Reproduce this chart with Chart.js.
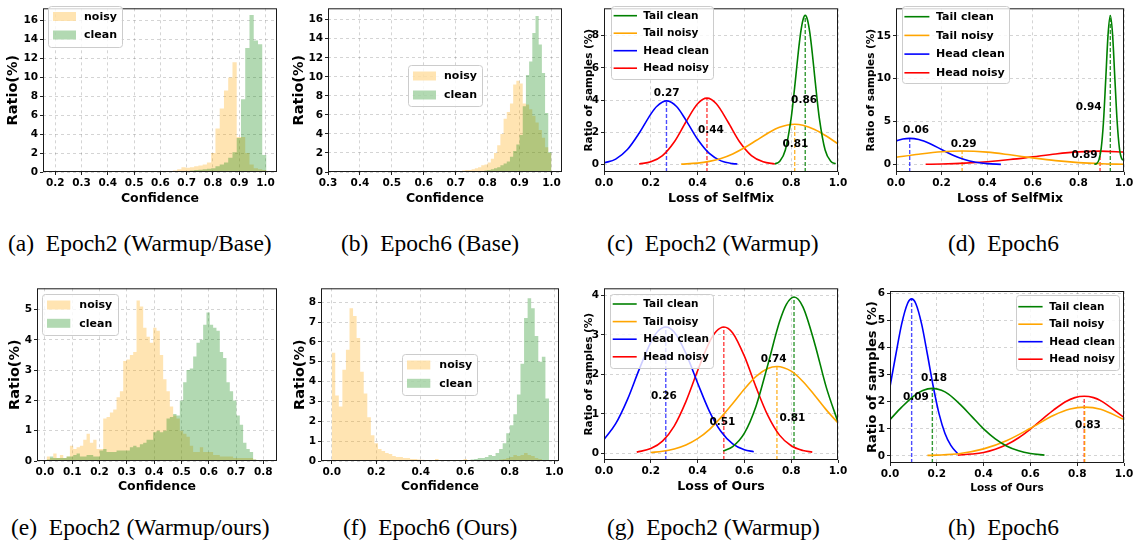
<!DOCTYPE html>
<html>
<head>
<meta charset="utf-8">
<script src="https://cdn.jsdelivr.net/npm/chart.js@4.4.1/dist/chart.umd.min.js"></script>
<style>
  html, body { margin: 0; padding: 0; background: #fff; }
  #fig { position: relative; width: 1138px; height: 549px; overflow: hidden; }
  canvas { position: absolute; }
  .cap { position: absolute; font-family: "Liberation Serif", "Times New Roman", serif;
         font-size: 23.5px; line-height: 24px; color: #000; white-space: nowrap; }
</style>
</head>
<body>
<div id="fig">
  <canvas id="ca" width="285" height="215" style="left:0px;top:0px"></canvas>
  <canvas id="cb" width="285" height="215" style="left:285px;top:0px"></canvas>
  <canvas id="cc" width="283" height="215" style="left:570px;top:0px"></canvas>
  <canvas id="cd" width="285" height="215" style="left:853px;top:0px"></canvas>
  <canvas id="ce" width="285" height="215" style="left:0px;top:280px"></canvas>
  <canvas id="cf" width="285" height="215" style="left:285px;top:280px"></canvas>
  <canvas id="cg" width="283" height="215" style="left:570px;top:280px"></canvas>
  <canvas id="ch" width="285" height="215" style="left:853px;top:280px"></canvas>

  <div class="cap" style="left:8px;top:231px">(a)&ensp;Epoch2 (Warmup/Base)</div>
  <div class="cap" style="left:341px;top:231px">(b)&ensp;Epoch6 (Base)</div>
  <div class="cap" style="left:607px;top:231px">(c)&ensp;Epoch2 (Warmup)</div>
  <div class="cap" style="left:948px;top:231px">(d)&ensp;Epoch6</div>
  <div class="cap" style="left:11px;top:515px">(e)&ensp;Epoch2 (Warmup/ours)</div>
  <div class="cap" style="left:343px;top:515px">(f)&ensp;Epoch6 (Ours)</div>
  <div class="cap" style="left:607px;top:515px">(g)&ensp;Epoch2 (Warmup)</div>
  <div class="cap" style="left:948px;top:515px">(h)&ensp;Epoch6</div>
</div>

<script>
// ---------- data: confidence histograms (ratio %) ----------
// (a) Epoch2 Warmup/Base
const aBinStart = 0.194, aBinWidth = 0.0162;
const aNoisy = [0,0,0,0,0,0,0,0,0,0, 0,0,0,0,0,0,0,0,0.03,0.03,
                0.01,0.02,0.03,0.04,0.05,0.06,0.08,0.1,0.15,0.3,
                0.5,0.45,0.5,0.6,0.7,0.8,1.0,2.0,4.6,6.7,
                8.6,10.0,11.6,3.7,3.7,2.0,0.8,0.4,0.3,0.2];
const aClean = [0,0,0,0,0,0,0,0,0,0, 0,0,0,0,0,0,0,0,0,0,
                0,0,0,0,0,0,0.03,0.05,0.05,0.08,
                0.1,0.1,0.15,0.2,0.25,0.3,0.35,0.4,0.6,0.8,
                1.0,1.5,2.1,3.6,7.7,13.1,16.6,13.9,13.5,1.8];
const aXTicks = [0.2,0.3,0.4,0.5,0.6,0.7,0.8,0.9,1.0];
const aYTicks = [0,2,4,6,8,10,12,14,16];

// (b) Epoch6 Base
const bBinStart = 0.70, bBinWidth = 0.01;
const bNoisy = [0.05,0.1,0.15,0.2,0.2,0.3,0.4,0.5,0.7,0.8,
                1.0,1.4,2.0,2.8,4.0,5.6,6.3,7.2,9.2,9.6,
                9.3,7.2,7.1,6.6,5.9,5.2,4.4,3.6,2.6,2.0];
const bClean = [0.03,0.03,0.03,0.03,0.03,0.03,0.03,0.05,0.1,0.15,
                0.2,0.3,0.4,0.5,0.7,0.9,1.1,1.6,2.2,2.9,
                3.9,6.9,10.2,11.6,14.6,16.4,13.4,10.4,6.2,2.1];
const bXTicks = [0.3,0.4,0.5,0.6,0.7,0.8,0.9,1.0];
const bYTicks = [0,2,4,6,8,10,12,14,16];

// (e) Epoch2 Warmup/ours
const eBinStart = 0.0061, eBinWidth = 0.0122;
const eNoisy = [0.15,0.1,0.25,0.1,0.2,0.1,0.15,0.5,0.4,0.45,
                0.5,0.7,0.9,0.6,0.7,0.4,0.4,1.4,1.45,1.6,
                1.7,2.1,2.3,3.3,3.35,3.5,3.6,5.3,5.1,4.4,
                4.1,3.9,4.4,4.3,3.5,2.7,2.3,1.8,1.5,1.4,
                1.0,0.9,0.8,0.5,0.3,0.3,0.45,0.3,0.3,0.3,
                0.2,0.2,0.15,0.15,0.15,0.15,0.1,0.1,0.1,0.1,
                0.1,0.1,0.05];
const eClean = [0.05,0.15,0.1,0.1,0.1,0.1,0.15,0.15,0.2,0.25,
                0.15,0.15,0.2,0.2,0.15,0.15,0.35,0.4,0.3,0.3,
                0.3,0.35,0.35,0.35,0.35,0.45,0.5,0.45,0.55,0.6,
                0.7,0.7,0.95,1.0,0.95,1.0,1.4,1.45,1.55,1.5,
                2.0,2.6,3.0,3.05,3.45,3.9,4.0,4.5,4.9,4.5,
                4.4,4.3,3.6,3.4,2.6,2.3,2.0,1.5,1.2,0.6,
                0.4,0.3,0.05];
const eXTicks = [0.0,0.1,0.2,0.3,0.4,0.5,0.6,0.7,0.8];
const eYTicks = [0,1,2,3,4,5];

// (f) Epoch6 Ours
const fBinStart = 0.0, fBinWidth = 0.016;
const fNoisy = [5.45,3.3,2.75,4.6,5.6,7.7,7.3,6.2,4.5,3.4,
                2.2,1.3,0.9,0.6,0.5,0.4,0.35,0.25,0.2,0.2,
                0.15,0.15,0.1,0.1,0.08,0.06,0.05,0.05,0.04,0.1,
                0.03,0.03,0.03,0.03,0.03,0.03,0.03,0.1,0.05,0.03,
                0.03,0.03,0.03,0.03,0.03,0.03,0.05,0.08,0.1,0.15,
                0.2,0.3,0.25,0.3,0.4,0.3,0.25,0.15,0.1,0.05,
                0.02];
const fClean = [0,0,0,0,0,0,0,0,0,0, 0,0,0,0,0,0,0,0,0,0,
                0,0,0,0,0,0,0,0,0,0,
                0,0.03,0.03,0.03,0.03,0.03,0.03,0.03,0.03,0.08,
                0.1,0.15,0.15,0.2,0.3,0.25,0.4,0.6,0.9,1.4,
                1.8,2.35,3.35,4.9,7.2,8.2,7.7,6.3,5.0,5.25,
                3.15];
const fXTicks = [0.0,0.2,0.4,0.6,0.8,1.0];
const fYTicks = [0,1,2,3,4,5,6,7,8];

// ---------- data: loss distributions, [loss, ratio %] ----------
const curveNames = ['Tail clean', 'Tail noisy', 'Head clean', 'Head noisy'];
const curveXTicks = [0.0,0.2,0.4,0.6,0.8,1.0];

// (c) SelfMix Epoch2
const cTailClean = [[0.73,0.04],[0.75,0.19],[0.775,0.9],[0.8,2.9],[0.81,4.13],[0.82,5.52],[0.83,6.92],
                    [0.84,8.13],[0.85,8.95],[0.86,9.25],[0.87,8.95],[0.88,8.13],[0.89,6.92],[0.9,5.52],
                    [0.91,4.13],[0.92,2.9],[0.945,0.9],[0.97,0.19],[0.99,0.05]];
const cTailNoisy = [[0.33,0.03],[0.4,0.09],[0.45,0.2],[0.5,0.38],[0.55,0.66],[0.6,1.04],[0.65,1.49],
                    [0.7,1.94],[0.75,2.31],[0.815,2.5],[0.85,2.44],[0.9,2.18],[0.95,1.77],[1.0,1.28]];
const cHeadClean = [[0,0.1],[0.05,0.34],[0.1,0.93],[0.15,1.94],[0.2,3.13],[0.225,3.6],[0.267,3.95],
                    [0.31,3.6],[0.35,2.76],[0.4,1.57],[0.45,0.69],[0.5,0.23],[0.55,0.06],[0.57,0.04]];
const cHeadNoisy = [[0.15,0.04],[0.2,0.17],[0.25,0.56],[0.3,1.4],[0.35,2.64],[0.4,3.77],[0.44,4.12],
                    [0.48,3.77],[0.53,2.64],[0.58,1.4],[0.63,0.56],[0.68,0.17],[0.73,0.04]];
const cMeans = [0.86, 0.815, 0.267, 0.44];
const cPeaks = [9.25, 2.5, 3.95, 4.12];
const cMeanText = ['0.86', '0.81', '0.27', '0.44'];
const cYTicks = [0,2,4,6,8];

// (d) SelfMix Epoch6
const dTailClean = [[0.87,0.05],[0.88,0.12],[0.89,0.55],[0.9,1.89],[0.91,4.99],[0.92,9.98],[0.93,15.1],
                    [0.94,17.36],[0.95,15.1],[0.96,9.98],[0.97,4.99],[0.98,1.89],[0.99,0.7],[1.0,0.5]];
const dTailNoisy = [[0,0.85],[0.1,1.21],[0.2,1.49],[0.29,1.58],[0.4,1.45],[0.5,1.14],[0.6,0.78],
                    [0.7,0.46],[0.8,0.23],[0.9,0.1],[1.0,0.04]];
const dHeadClean = [[0,2.76],[0.03,2.98],[0.06,3.06],[0.1,2.92],[0.15,2.43],[0.2,1.75],[0.25,1.09],
                    [0.3,0.59],[0.35,0.28],[0.4,0.11],[0.46,0.03]];
const dHeadNoisy = [[0.13,0.04],[0.2,0.075],[0.3,0.17],[0.4,0.34],[0.5,0.59],[0.6,0.91],[0.7,1.24],
                    [0.8,1.48],[0.895,1.57],[1.0,1.46]];
const dMeans = [0.94, 0.29, 0.06, 0.895];
const dPeaks = [17.36, 1.58, 3.06, 1.57];
const dMeanText = ['0.94', '0.29', '0.06', '0.89'];
const dYTicks = [0,5,10,15];

// (g) Ours Epoch2
const gTailClean = [[0.51,0.06],[0.55,0.17],[0.6,0.51],[0.65,1.2],[0.7,2.24],[0.75,3.33],[0.78,3.78],
                    [0.812,3.96],[0.85,3.71],[0.9,2.79],[0.95,1.67],[1.0,0.79]];
const gTailNoisy = [[0.2,0.02],[0.25,0.05],[0.3,0.11],[0.35,0.21],[0.4,0.37],[0.45,0.6],[0.5,0.91],
                    [0.55,1.26],[0.6,1.63],[0.65,1.95],[0.7,2.15],[0.739,2.2],[0.8,2.08],[0.85,1.82],
                    [0.9,1.47],[0.95,1.1],[1.0,0.77]];
const gHeadClean = [[0,0.35],[0.05,0.75],[0.1,1.36],[0.15,2.12],[0.2,2.81],[0.23,3.09],[0.264,3.2],
                    [0.3,3.07],[0.35,2.53],[0.4,1.78],[0.45,1.07],[0.5,0.55],[0.55,0.24],[0.6,0.09],[0.64,0.04]];
const gHeadNoisy = [[0.14,0.03],[0.2,0.12],[0.25,0.31],[0.3,0.69],[0.35,1.31],[0.4,2.09],[0.45,2.81],
                    [0.48,3.09],[0.512,3.2],[0.55,3.05],[0.6,2.46],[0.65,1.67],[0.7,0.96],[0.75,0.46],
                    [0.8,0.19],[0.85,0.07],[0.89,0.03]];
const gMeans = [0.812, 0.739, 0.264, 0.512];
const gPeaks = [3.96, 2.2, 3.2, 3.2];
const gMeanText = ['0.81', '0.74', '0.26', '0.51'];
const gYTicks = [0,1,2,3,4];

// (h) Ours Epoch6
const hTailClean = [[0,1.34],[0.05,1.8],[0.1,2.2],[0.14,2.41],[0.181,2.49],[0.22,2.42],[0.25,2.28],
                    [0.3,1.9],[0.35,1.45],[0.4,1.0],[0.45,0.63],[0.5,0.36],[0.55,0.19],[0.6,0.09],[0.66,0.03]];
const hTailNoisy = [[0.16,0.02],[0.2,0.03],[0.3,0.09],[0.4,0.26],[0.5,0.57],[0.6,1.02],[0.7,1.5],
                    [0.77,1.73],[0.832,1.8],[0.9,1.72],[1.0,1.34]];
const hHeadClean = [[0,2.55],[0.025,3.74],[0.05,4.87],[0.075,5.62],[0.0925,5.79],[0.11,5.62],[0.135,4.87],
                    [0.16,3.74],[0.185,2.55],[0.21,1.54],[0.235,0.83],[0.26,0.39],[0.29,0.08]];
const hHeadNoisy = [[0.29,0.03],[0.35,0.07],[0.4,0.13],[0.45,0.25],[0.5,0.42],[0.55,0.67],[0.6,0.99],
                    [0.65,1.35],[0.7,1.7],[0.75,2.0],[0.79,2.15],[0.83,2.2],[0.87,2.15],[0.9,2.04],[1.0,1.42]];
const hMeans = [0.181, 0.832, 0.0925, 0.83];
const hPeaks = [2.49, 1.8, 5.79, 2.2];
const hMeanText = ['0.18', '0.83', '0.09', null];
const hYTicks = [0,1,2,3,4,5,6];

// ---------- styling ----------
Chart.defaults.font.family = '"DejaVu Sans", sans-serif';
Chart.defaults.font.weight = 'bold';
Chart.defaults.color = '#000';

const NOISY_FILL = 'rgba(255,165,0,0.3)';
const CLEAN_FILL = 'rgba(0,128,0,0.3)';
const CURVE_COLORS = ['#008000', '#ffa500', '#0000ff', '#ff0000'];
const DASH_COLORS = ['rgba(0,128,0,0.8)', 'rgba(255,165,0,0.8)', 'rgba(0,0,255,0.7)', 'rgba(255,0,0,0.75)'];

// black box around the axes, like matplotlib spines
const framePlugin = {
  id: 'frame',
  afterDraw(chart) {
    const { ctx, chartArea: a } = chart;
    ctx.save();
    ctx.strokeStyle = '#1a1a1a';
    ctx.lineWidth = 1;
    ctx.strokeRect(a.left + 0.5, a.top + 0.5, a.right - a.left - 1, a.bottom - a.top - 1);
    ctx.restore();
  }
};

// legend box at a fixed spot (matplotlib-style frame)
function legendPlugin(L) {
  return {
    id: 'boxLegend',
    afterDraw(chart) {
      const ctx = chart.ctx;
      const [bx, by, bw, bh] = L.box;
      const items = chart.data.datasets.filter(d => !d.noLegend);
      ctx.save();
      ctx.beginPath();
      ctx.roundRect(bx + 0.5, by + 0.5, bw, bh, 3);
      ctx.fillStyle = 'rgba(255,255,255,0.8)';
      ctx.fill();
      ctx.strokeStyle = '#cccccc';
      ctx.lineWidth = 1;
      ctx.stroke();
      ctx.font = 'bold ' + L.fontSize + 'px "DejaVu Sans"';
      ctx.textBaseline = 'middle';
      ctx.textAlign = 'left';
      items.forEach((d, i) => {
        const cy = by + L.row0 + i * L.rowStep;
        if (L.patch) {
          ctx.fillStyle = d.backgroundColor;
          ctx.fillRect(bx + L.symX, cy - 4.5, L.symW, 9);
        } else {
          ctx.strokeStyle = d.borderColor;
          ctx.lineWidth = 1.6;
          ctx.beginPath();
          ctx.moveTo(bx + L.symX, cy);
          ctx.lineTo(bx + L.symX + L.symW, cy);
          ctx.stroke();
        }
        ctx.fillStyle = '#000';
        ctx.fillText(d.label, bx + L.textX, cy + 0.5);
      });
      ctx.restore();
    }
  };
}

// text next to each mean line, placed in data coordinates
function meanTextPlugin(texts, pos) {
  return {
    id: 'meanText',
    afterDatasetsDraw(chart) {
      const { ctx, scales } = chart;
      ctx.save();
      ctx.font = 'bold 10.5px "DejaVu Sans"';
      ctx.fillStyle = '#000';
      ctx.textAlign = 'center';
      ctx.textBaseline = 'middle';
      texts.forEach((t, i) => {
        if (!t || !pos[i]) return;
        ctx.fillText(t, scales.x.getPixelForValue(pos[i][0]), scales.y.getPixelForValue(pos[i][1]));
      });
      ctx.restore();
    }
  };
}

function buildScales(s, W, H) {
  const [L, T, R, B] = s.area;
  const tickFont = { size: 10.5, weight: 'bold' };
  const grid = { color: 'rgba(0,0,0,0.17)', lineWidth: 1, tickLength: 3, tickColor: '#222', tickWidth: 1, offset: false };
  return {
    layout: { padding: { left: 0, top: T, right: W - R, bottom: 0 } },
    scales: {
      x: {
        type: 'linear', min: s.xMin, max: s.xMax, offset: false, bounds: 'data',
        afterBuildTicks: sc => { sc.ticks = s.xTicks.map(v => ({ value: v })); },
        afterFit: sc => { sc.height = H - B; },
        ticks: { font: tickFont, color: '#000', padding: 2, autoSkip: false, maxRotation: 0,
                 callback: v => v.toFixed(1) },
        grid: grid,
        border: { display: false, dash: [3, 3] },
        title: { display: true, text: s.xTitle, color: '#000',
                 font: { size: s.xTitleSize, weight: 'bold', lineHeight: 1 },
                 padding: { top: 0, bottom: s.xTitlePad } }
      },
      y: {
        type: 'linear', min: s.yMin, max: s.yMax, bounds: 'data',
        afterBuildTicks: sc => { sc.ticks = s.yTicks.map(v => ({ value: v })); },
        afterFit: sc => { sc.width = L; },
        ticks: { font: tickFont, color: '#000', padding: 2, autoSkip: false, callback: v => String(v) },
        grid: grid,
        border: { display: false, dash: [3, 3] },
        title: { display: true, text: s.yTitle, color: '#000',
                 font: { size: s.yTitleSize, weight: 'bold', lineHeight: 1 },
                 padding: { top: s.yTitlePad, bottom: 0 } }
      }
    }
  };
}

const baseOptions = {
  responsive: false, animation: false, events: [],
  plugins: { legend: { display: false }, tooltip: { enabled: false } }
};

// histogram drawn as a step outline filled to zero (no seams between bins)
function histSeries(s, values) {
  const pts = [{ x: s.binStart, y: values[0] }];
  values.forEach((v, i) => pts.push({ x: s.binStart + s.binWidth * (i + 0.5), y: v }));
  pts.push({ x: s.binStart + s.binWidth * values.length, y: values[values.length - 1] });
  return pts;
}

function histChart(id, s) {
  const canvas = document.getElementById(id);
  const look = { stepped: 'middle', fill: 'origin', pointRadius: 0, borderWidth: 0,
                 borderColor: 'rgba(0,0,0,0)' };
  const ax = buildScales(s, canvas.width, canvas.height);
  return new Chart(canvas, {
    type: 'line',
    data: {
      datasets: [
        Object.assign({ label: 'noisy', backgroundColor: NOISY_FILL, order: 1, data: histSeries(s, s.noisy) }, look),
        Object.assign({ label: 'clean', backgroundColor: CLEAN_FILL, order: 0, data: histSeries(s, s.clean) }, look)
      ]
    },
    options: Object.assign({}, baseOptions, ax),
    plugins: [framePlugin, legendPlugin(Object.assign({ patch: true }, s.legend))]
  });
}

function curveChart(id, s) {
  const canvas = document.getElementById(id);
  const ax = buildScales(s, canvas.width, canvas.height);
  const datasets = s.curves.map((pts, i) => ({
    label: curveNames[i], borderColor: CURVE_COLORS[i], borderWidth: 1.6,
    pointRadius: 0, fill: false, cubicInterpolationMode: 'monotone',
    data: pts.map(p => ({ x: p[0], y: p[1] }))
  }));
  s.means.forEach((m, i) => {
    datasets.push({
      noLegend: true, borderColor: DASH_COLORS[i], borderWidth: 1.4, borderDash: [4, 2],
      pointRadius: 0, fill: false,
      data: [{ x: m, y: s.yMin }, { x: m, y: s.peaks[i] }]
    });
  });
  return new Chart(canvas, {
    type: 'line',
    data: { datasets: datasets },
    options: Object.assign({}, baseOptions, ax),
    plugins: [framePlugin, meanTextPlugin(s.meanText, s.textPos), legendPlugin(Object.assign({ patch: false }, s.legend))]
  });
}

// ---------- panels ----------
histChart('ca', {
  binStart: aBinStart, binWidth: aBinWidth, noisy: aNoisy, clean: aClean,
  xTicks: aXTicks, yTicks: aYTicks, xMin: 0.153, xMax: 1.044, yMin: 0, yMax: 17.3,
  area: [43, 1, 277, 172],
  xTitle: 'Confidence', xTitleSize: 12.5, xTitlePad: 10.5,
  yTitle: 'Ratio(%)', yTitleSize: 14.5, yTitlePad: 6,
  legend: { box: [48, 6, 74, 41], row0: 10.5, rowStep: 18.5, symX: 5, symW: 23, textX: 36, fontSize: 11 }
});

histChart('cb', {
  binStart: bBinStart, binWidth: bBinWidth, noisy: bNoisy, clean: bClean,
  xTicks: bXTicks, yTicks: bYTicks, xMin: 0.3, xMax: 1.033, yMin: 0, yMax: 17.2,
  area: [43, 1, 277, 172],
  xTitle: 'Confidence', xTitleSize: 12.5, xTitlePad: 10.5,
  yTitle: 'Ratio(%)', yTitleSize: 14.5, yTitlePad: 6.5,
  legend: { box: [123, 65, 74, 41], row0: 11, rowStep: 19, symX: 5, symW: 23, textX: 36, fontSize: 11 }
});

curveChart('cc', {
  curves: [cTailClean, cTailNoisy, cHeadClean, cHeadNoisy],
  means: cMeans, peaks: cPeaks, meanText: cMeanText,
  textPos: [[0.855, 3.99], [0.818, 1.28], [0.268, 4.42], [0.457, 2.12]],
  xTicks: curveXTicks, yTicks: cYTicks, xMin: 0, xMax: 1, yMin: -0.46, yMax: 9.69,
  area: [34, 0, 268, 172],
  xTitle: 'Loss of SelfMix', xTitleSize: 12.5, xTitlePad: 10.5,
  yTitle: 'Ratio of samples (%)', yTitleSize: 10.5, yTitlePad: 14,
  legend: { box: [41, 6, 102, 73], row0: 9.7, rowStep: 17.5, symX: 2.6, symW: 23.4, textX: 32.3, fontSize: 10.5 }
});

curveChart('cd', {
  curves: [dTailClean, dTailNoisy, dHeadClean, dHeadNoisy],
  means: dMeans, peaks: dPeaks, meanText: dMeanText,
  textPos: [[0.845, 6.63], [0.297, 2.40], [0.088, 3.98], [0.827, 1.14]],
  xTicks: curveXTicks, yTicks: dYTicks, xMin: 0, xMax: 1, yMin: -0.86, yMax: 18.2,
  area: [43, 0, 271, 172],
  xTitle: 'Loss of SelfMix', xTitleSize: 12.5, xTitlePad: 10.5,
  yTitle: 'Ratio of samples (%)', yTitleSize: 10.5, yTitlePad: 13.5,
  legend: { box: [49, 6, 107, 77], row0: 10.7, rowStep: 18.7, symX: 2.4, symW: 25, textX: 34, fontSize: 11 }
});

histChart('ce', {
  binStart: eBinStart, binWidth: eBinWidth, noisy: eNoisy, clean: eClean,
  xTicks: eXTicks, yTicks: eYTicks, xMin: -0.029, xMax: 0.85, yMin: 0, yMax: 5.7,
  area: [37, 7, 277, 181],
  xTitle: 'Confidence', xTitleSize: 12.5, xTitlePad: 1.75,
  yTitle: 'Ratio(%)', yTitleSize: 14.5, yTitlePad: 7.5,
  legend: { box: [42, 14, 76, 41], row0: 11, rowStep: 18.3, symX: 5, symW: 23.3, textX: 37.3, fontSize: 11 }
});

histChart('cf', {
  binStart: fBinStart, binWidth: fBinWidth, noisy: fNoisy, clean: fClean,
  xTicks: fXTicks, yTicks: fYTicks, xMin: -0.048, xMax: 1.021, yMin: 0, yMax: 8.7,
  area: [36, 7, 274, 181],
  xTitle: 'Confidence', xTitleSize: 12.5, xTitlePad: 1.75,
  yTitle: 'Ratio(%)', yTitleSize: 14.5, yTitlePad: 7.5,
  legend: { box: [117, 74, 75, 41], row0: 11, rowStep: 18.3, symX: 5, symW: 23.3, textX: 37.3, fontSize: 11 }
});

curveChart('cg', {
  curves: [gTailClean, gTailNoisy, gHeadClean, gHeadNoisy],
  means: gMeans, peaks: gPeaks, meanText: gMeanText,
  textPos: [[0.805, 0.88], [0.725, 2.38], [0.256, 1.44], [0.506, 0.79]],
  xTicks: curveXTicks, yTicks: gYTicks, xMin: 0, xMax: 1, yMin: -0.17, yMax: 4.18,
  area: [34, 7, 268, 180],
  xTitle: 'Loss of Ours', xTitleSize: 12.5, xTitlePad: 2,
  yTitle: 'Ratio of samples (%)', yTitleSize: 10.5, yTitlePad: 14.3,
  legend: { box: [40, 14, 103, 74], row0: 10, rowStep: 17.6, symX: 2.7, symW: 24, textX: 33.3, fontSize: 10.5 }
});

curveChart('ch', {
  curves: [hTailClean, hTailNoisy, hHeadClean, hHeadNoisy],
  means: hMeans, peaks: hPeaks, meanText: hMeanText,
  textPos: [[0.188, 2.86], [0.846, 1.13], [0.111, 2.16], null],
  xTicks: curveXTicks, yTicks: hYTicks, xMin: 0, xMax: 1, yMin: -0.26, yMax: 6.08,
  area: [37, 11, 271, 183],
  xTitle: 'Loss of Ours', xTitleSize: 10.5, xTitlePad: 1.75,
  yTitle: 'Ratio of samples (%)', yTitleSize: 13, yTitlePad: 13,
  legend: { box: [163, 15, 103, 75], row0: 11.7, rowStep: 17.5, symX: 2.3, symW: 24.3, textX: 33.3, fontSize: 10.5 }
});
</script>
</body>
</html>
